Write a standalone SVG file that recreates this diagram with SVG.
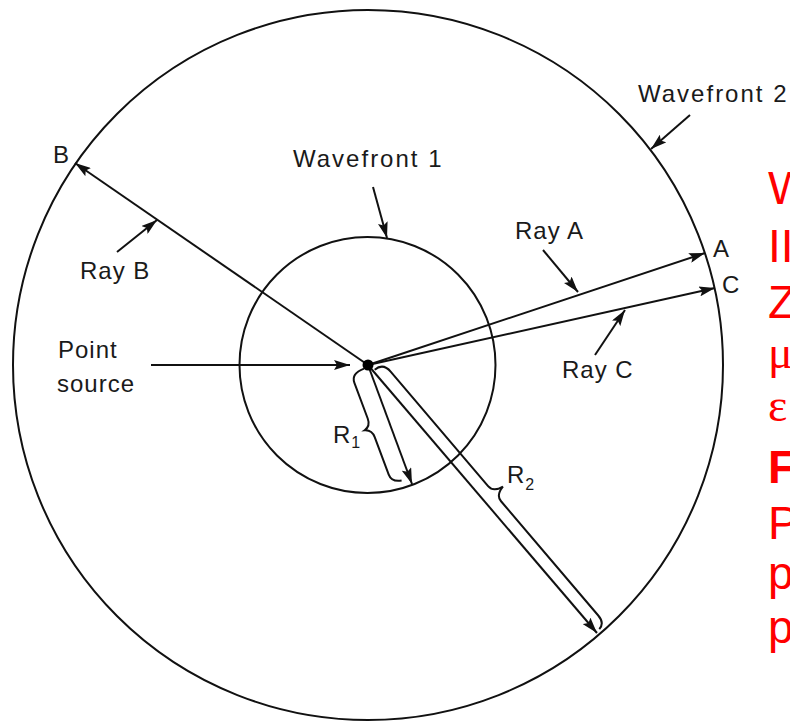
<svg xmlns="http://www.w3.org/2000/svg" width="790" height="723" viewBox="0 0 790 723">
<style>
.ln{stroke:#111;stroke-width:2;fill:none}
.lb{font-family:"Liberation Sans",Arial,sans-serif;font-size:24px;letter-spacing:1px;fill:#1a1a1a}
.wf{letter-spacing:2px}
.sub{font-size:16px;letter-spacing:0}
.red{font-family:"Liberation Sans",Arial,sans-serif;font-size:46px;fill:#ff0000}
.gk{font-family:"Liberation Serif","Times New Roman",serif}
</style>
<defs>
<marker id="ah" markerUnits="userSpaceOnUse" markerWidth="17" markerHeight="10" refX="16" refY="5" orient="auto">
<path d="M0,0 L16,5 L0,10 L3,5 z" fill="#111"/>
</marker>
</defs>
<rect width="790" height="723" fill="#fff"/>
<g id="wavefront2"><circle class="ln" cx="368" cy="365" r="355"/></g>
<g id="wavefront1"><circle class="ln" cx="367.5" cy="365" r="128"/></g>
<g id="connectors">
<line class="ln" x1="368" y1="365" x2="75" y2="163" marker-end="url(#ah)"/>
<line class="ln" x1="368" y1="365" x2="705" y2="253" marker-end="url(#ah)"/>
<line class="ln" x1="368" y1="365" x2="715" y2="288" marker-end="url(#ah)"/>
<line class="ln" x1="368" y1="365" x2="412" y2="484" marker-end="url(#ah)"/>
<line class="ln" x1="368" y1="365" x2="597" y2="633" marker-end="url(#ah)"/>
<line class="ln" x1="151" y1="365" x2="350" y2="365" marker-end="url(#ah)"/>
<line class="ln" x1="690" y1="115" x2="651" y2="149" marker-end="url(#ah)"/>
<line class="ln" x1="373" y1="187" x2="387" y2="238" marker-end="url(#ah)"/>
<line class="ln" x1="117" y1="252" x2="157" y2="220" marker-end="url(#ah)"/>
<line class="ln" x1="543" y1="250" x2="578" y2="292" marker-end="url(#ah)"/>
<line class="ln" x1="595" y1="355" x2="625" y2="310" marker-end="url(#ah)"/>
</g>
<g id="braces">
<path class="ln" transform="translate(368,365) rotate(69.5)" d="M2 5 Q2 19 12 19 L50 19 Q58 19 60 26 Q62 19 70 19 L110 19 Q118 19 120 9"/>
<path class="ln" transform="translate(368,365) rotate(49.6)" d="M8 -2 Q8 -13 20 -13 L170 -13 Q178 -13 180 -24 Q182 -13 190 -13 L340 -13 Q350 -13 351 -5"/>
</g>
<g id="point-source">
<circle cx="368" cy="365" r="5.5" fill="#000"/>
<text class="lb" x="58" y="358">Point</text>
<text class="lb" x="57" y="392">source</text>
</g>
<g id="label-wavefront2"><text class="lb wf" x="638" y="102">Wavefront 2</text></g>
<g id="label-wavefront1"><text class="lb wf" x="293" y="167">Wavefront 1</text></g>
<g id="label-B"><text class="lb" x="53" y="163">B</text></g>
<g id="label-rayB"><text class="lb" x="80" y="279">Ray B</text></g>
<g id="label-rayA"><text class="lb" x="515" y="239">Ray A</text></g>
<g id="label-A"><text class="lb" x="713" y="257">A</text></g>
<g id="label-C"><text class="lb" x="722" y="293">C</text></g>
<g id="label-rayC"><text class="lb" x="562" y="378">Ray C</text></g>
<g id="label-R1"><text class="lb" x="333" y="443">R<tspan class="sub" dy="5">1</tspan></text></g>
<g id="label-R2"><text class="lb" x="507" y="483">R<tspan class="sub" dy="7">2</tspan></text></g>
<g id="side-text">
<text class="red" x="768" y="204">W</text>
<text class="red" x="768" y="262">II</text>
<text class="red" x="768" y="318">Z</text>
<text class="red gk" x="768" y="368">μ</text>
<text class="red gk" x="768" y="421">ε</text>
<text class="red" x="768" y="483" font-weight="bold">F</text>
<text class="red" x="768" y="539">P</text>
<text class="red" x="768" y="589">p</text>
<text class="red" x="768" y="643">p</text>
</g>
</svg>
